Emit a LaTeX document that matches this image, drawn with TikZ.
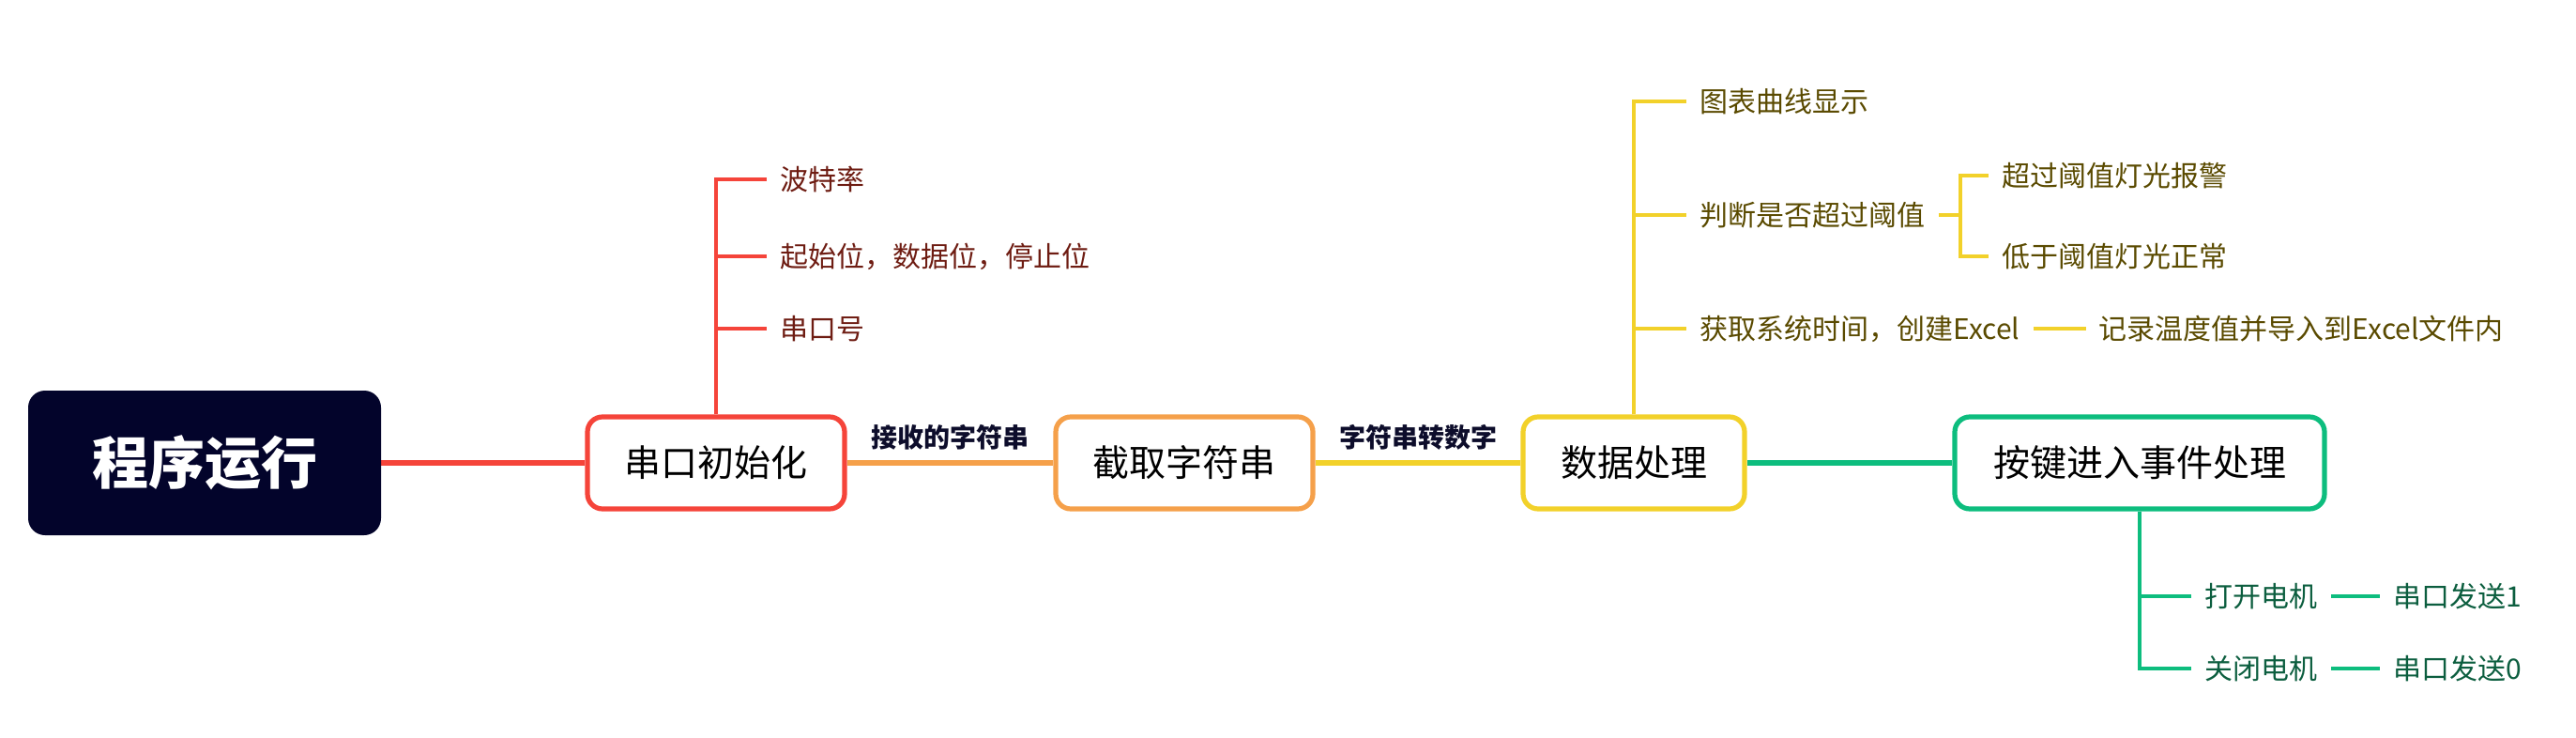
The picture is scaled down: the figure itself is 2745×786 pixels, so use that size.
\documentclass[tikz,border=0pt]{standalone}
\usepackage{fontspec}
\usepackage{xcolor}
\usepackage{tikz}
\usetikzlibrary{positioning,backgrounds}
\setmainfont{Noto Sans CJK SC}

\definecolor{rootbg}{HTML}{03042B}
\definecolor{redc}{HTML}{F5443A}
\definecolor{orangec}{HTML}{F5A04A}
\definecolor{yellowc}{HTML}{F2D12A}
\definecolor{greenc}{HTML}{0DBD7E}
\definecolor{redtxt}{HTML}{6E1C12}
\definecolor{yellowtxt}{HTML}{5A4A00}
\definecolor{greentxt}{HTML}{0C5E3F}
\definecolor{tagc}{HTML}{0D0D2B}

\begin{document}
\begin{tikzpicture}[x=0.5pt, y=-0.5pt,
        box/.style={draw, line width=2.6pt, rounded corners=8pt, fill=white, minimum height=49pt, font=\fontsize{19.5}{23}\selectfont},
        leaf/.style={anchor=west, inner xsep=7pt, font=\fontsize{15}{18}\selectfont},
        tag/.style={above=2pt, text=tagc, font=\bfseries\fontsize{14}{17}\selectfont},
        mainline/.style={line width=2.75pt},
        subline/.style={line width=2.3pt}]
        \useasboundingbox (0,0) rectangle (2745,786);

        % Main chain
        \node[fill=rootbg, text=white, rounded corners=9pt, minimum width=188pt, minimum height=77pt, font=\bfseries\fontsize{30}{36}\selectfont] (run) at (218,493) {程序运行};
        \node[box, draw=redc, minimum width=137pt] (uart) at (763,493) {串口初始化};
        \node[box, draw=orangec, minimum width=137pt] (cut) at (1262,493) {截取字符串};
        \node[box, draw=yellowc, minimum width=118pt] (data) at (1741,493) {数据处理};
        \node[box, draw=greenc, minimum width=197pt] (key) at (2280,493) {按键进入事件处理};

        % Leaves
        \node[leaf, text=redtxt] (baud) at (817,191) {波特率};
        \node[leaf, text=redtxt] (bits) at (817,273) {起始位，数据位，停止位};
        \node[leaf, text=redtxt] (port) at (817,350) {串口号};

        \node[leaf, text=yellowtxt] (chart) at (1797,108) {图表曲线显示};
        \node[leaf, text=yellowtxt] (judge) at (1797,229) {判断是否超过阈值};
        \node[leaf, text=yellowtxt] (excel) at (1797,350) {获取系统时间，创建Excel};
        \node[leaf, text=yellowtxt] (over) at (2119,187) {超过阈值灯光报警};
        \node[leaf, text=yellowtxt] (under) at (2119,273) {低于阈值灯光正常};
        \node[leaf, text=yellowtxt, right=28pt of excel] (record) {记录温度值并导入到Excel文件内};

        \node[leaf, text=greentxt] (motoron) at (2335,635) {打开电机};
        \node[leaf, text=greentxt] (motoroff) at (2335,712) {关闭电机};
        \node[leaf, text=greentxt, right=26pt of motoron] (sendone) {串口发送1};
        \node[leaf, text=greentxt, right=26pt of motoroff] (sendzero) {串口发送0};

        % Connectors
        \begin{scope}[on background layer]
        \draw[mainline, redc] (run) -- (uart);
        \draw[mainline, orangec] (uart) -- node[tag] {接收的字符串} (cut);
        \draw[mainline, yellowc] (cut) -- node[tag] {字符串转数字} (data);
        \draw[mainline, greenc] (data) -- (key);

        \draw[subline, redc] (uart.north) |- (baud.west);
        \draw[subline, redc] (uart.north) |- (bits.west);
        \draw[subline, redc] (uart.north) |- (port.west);

        \draw[subline, yellowc] (data.north) |- (chart.west);
        \draw[subline, yellowc] (data.north) |- (judge.west);
        \draw[subline, yellowc] (data.north) |- (excel.west);
        \draw[subline, yellowc] (judge.east) -- ++(23,0) coordinate (fork);
        \draw[subline, yellowc] (over.west) -| (fork) |- (under.west);
        \draw[subline, yellowc] (excel) -- (record);

        \draw[subline, greenc] (key.south) |- (motoron.west);
        \draw[subline, greenc] (key.south) |- (motoroff.west);
        \draw[subline, greenc] (motoron) -- (sendone);
        \draw[subline, greenc] (motoroff) -- (sendzero);
        \end{scope}
    \end{tikzpicture}
\end{document}
